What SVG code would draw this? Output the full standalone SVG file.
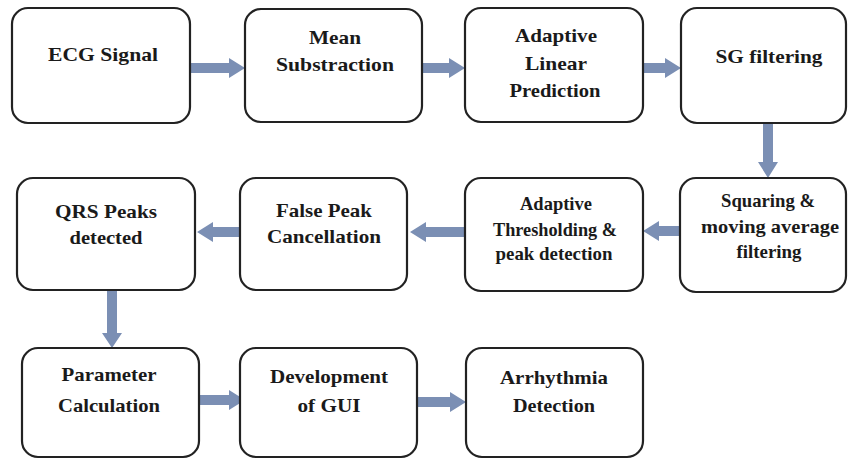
<svg xmlns="http://www.w3.org/2000/svg" width="848" height="459" viewBox="0 0 848 459">
<style>
.box{fill:#fff;stroke:#222;stroke-width:2.2}
.arr{fill:#7b8fb4}
</style>
<rect width="848" height="459" fill="#fff"/>
<g id="connectors">
<polygon class="arr" points="190,63 229,63 229,58 245,68 229,78 229,73 190,73"/>
<polygon class="arr" points="422,63 449,63 449,58 465,68 449,78 449,73 422,73"/>
<polygon class="arr" points="643,63 665,63 665,58 681,68 665,78 665,73 643,73"/>
<polygon class="arr" points="763,123 763,162 758,162 768,178 778,162 773,162 773,123"/>
<polygon class="arr" points="680,226 659,226 659,221 643,231 659,241 659,236 680,236"/>
<polygon class="arr" points="465,227 426,227 426,222 410,232 426,242 426,237 465,237"/>
<polygon class="arr" points="240,227 213,227 213,222 197,232 213,242 213,237 240,237"/>
<polygon class="arr" points="107,290 107,333 102,333 112,348 122,333 117,333 117,290"/>
<polygon class="arr" points="199,395 229,395 229,390 245,400 229,410 229,405 199,405"/>
<polygon class="arr" points="417,397 450,397 450,392 466,402 450,412 450,407 417,407"/>
</g>
<g id="n1"><rect class="box" x="12" y="8" width="178" height="115" rx="16"/>
<text style="font-family:'Liberation Serif',serif;font-weight:bold;font-size:19px;fill:#1a1a1a" x="48" y="61" textLength="110" lengthAdjust="spacingAndGlyphs">ECG Signal</text></g>
<g id="n2"><rect class="box" x="245" y="9" width="177" height="113" rx="16"/>
<text style="font-family:'Liberation Serif',serif;font-weight:bold;font-size:19px;fill:#1a1a1a" x="309" y="44" textLength="52" lengthAdjust="spacingAndGlyphs">Mean</text>
<text style="font-family:'Liberation Serif',serif;font-weight:bold;font-size:19px;fill:#1a1a1a" x="276" y="71" textLength="118" lengthAdjust="spacingAndGlyphs">Substraction</text></g>
<g id="n3"><rect class="box" x="465" y="8" width="178" height="114" rx="16"/>
<text style="font-family:'Liberation Serif',serif;font-weight:bold;font-size:19px;fill:#1a1a1a" x="515" y="42" textLength="82" lengthAdjust="spacingAndGlyphs">Adaptive</text>
<text style="font-family:'Liberation Serif',serif;font-weight:bold;font-size:19px;fill:#1a1a1a" x="525" y="70" textLength="62" lengthAdjust="spacingAndGlyphs">Linear</text>
<text style="font-family:'Liberation Serif',serif;font-weight:bold;font-size:19px;fill:#1a1a1a" x="509.5" y="97" textLength="91" lengthAdjust="spacingAndGlyphs">Prediction</text></g>
<g id="n4"><rect class="box" x="681" y="8" width="165" height="115" rx="16"/>
<text style="font-family:'Liberation Serif',serif;font-weight:bold;font-size:19px;fill:#1a1a1a" x="715.5" y="63" textLength="107" lengthAdjust="spacingAndGlyphs">SG filtering</text></g>
<g id="n5"><rect class="box" x="680" y="178" width="166" height="114" rx="16"/>
<text style="font-family:'Liberation Serif',serif;font-weight:bold;font-size:19px;fill:#1a1a1a" x="721" y="207" textLength="94" lengthAdjust="spacingAndGlyphs">Squaring &amp;</text>
<text style="font-family:'Liberation Serif',serif;font-weight:bold;font-size:19px;fill:#1a1a1a" x="701" y="233" textLength="138" lengthAdjust="spacingAndGlyphs">moving average</text>
<text style="font-family:'Liberation Serif',serif;font-weight:bold;font-size:19px;fill:#1a1a1a" x="736.5" y="258" textLength="65" lengthAdjust="spacingAndGlyphs">filtering</text></g>
<g id="n6"><rect class="box" x="465" y="178" width="178" height="113" rx="16"/>
<text style="font-family:'Liberation Serif',serif;font-weight:bold;font-size:19px;fill:#1a1a1a" x="520" y="210" textLength="72" lengthAdjust="spacingAndGlyphs">Adaptive</text>
<text style="font-family:'Liberation Serif',serif;font-weight:bold;font-size:19px;fill:#1a1a1a" x="493" y="236" textLength="124" lengthAdjust="spacingAndGlyphs">Thresholding &amp;</text>
<text style="font-family:'Liberation Serif',serif;font-weight:bold;font-size:19px;fill:#1a1a1a" x="495.5" y="260" textLength="117" lengthAdjust="spacingAndGlyphs">peak detection</text></g>
<g id="n7"><rect class="box" x="240" y="178" width="167" height="112" rx="16"/>
<text style="font-family:'Liberation Serif',serif;font-weight:bold;font-size:19px;fill:#1a1a1a" x="276" y="217" textLength="96" lengthAdjust="spacingAndGlyphs">False Peak</text>
<text style="font-family:'Liberation Serif',serif;font-weight:bold;font-size:19px;fill:#1a1a1a" x="267" y="243" textLength="114" lengthAdjust="spacingAndGlyphs">Cancellation</text></g>
<g id="n8"><rect class="box" x="17" y="178" width="178" height="112" rx="16"/>
<text style="font-family:'Liberation Serif',serif;font-weight:bold;font-size:19px;fill:#1a1a1a" x="55" y="218" textLength="102" lengthAdjust="spacingAndGlyphs">QRS Peaks</text>
<text style="font-family:'Liberation Serif',serif;font-weight:bold;font-size:19px;fill:#1a1a1a" x="69.5" y="244" textLength="73" lengthAdjust="spacingAndGlyphs">detected</text></g>
<g id="n9"><rect class="box" x="22" y="348" width="177" height="109" rx="16"/>
<text style="font-family:'Liberation Serif',serif;font-weight:bold;font-size:19px;fill:#1a1a1a" x="61.5" y="381" textLength="95" lengthAdjust="spacingAndGlyphs">Parameter</text>
<text style="font-family:'Liberation Serif',serif;font-weight:bold;font-size:19px;fill:#1a1a1a" x="58" y="412" textLength="102" lengthAdjust="spacingAndGlyphs">Calculation</text></g>
<g id="n10"><rect class="box" x="240" y="348" width="177" height="109" rx="16"/>
<text style="font-family:'Liberation Serif',serif;font-weight:bold;font-size:19px;fill:#1a1a1a" x="270" y="383" textLength="118" lengthAdjust="spacingAndGlyphs">Development</text>
<text style="font-family:'Liberation Serif',serif;font-weight:bold;font-size:19px;fill:#1a1a1a" x="297.5" y="412" textLength="63" lengthAdjust="spacingAndGlyphs">of GUI</text></g>
<g id="n11"><rect class="box" x="466" y="348" width="177" height="109" rx="16"/>
<text style="font-family:'Liberation Serif',serif;font-weight:bold;font-size:19px;fill:#1a1a1a" x="500" y="384" textLength="108" lengthAdjust="spacingAndGlyphs">Arrhythmia</text>
<text style="font-family:'Liberation Serif',serif;font-weight:bold;font-size:19px;fill:#1a1a1a" x="513" y="412" textLength="82" lengthAdjust="spacingAndGlyphs">Detection</text></g>
</svg>
